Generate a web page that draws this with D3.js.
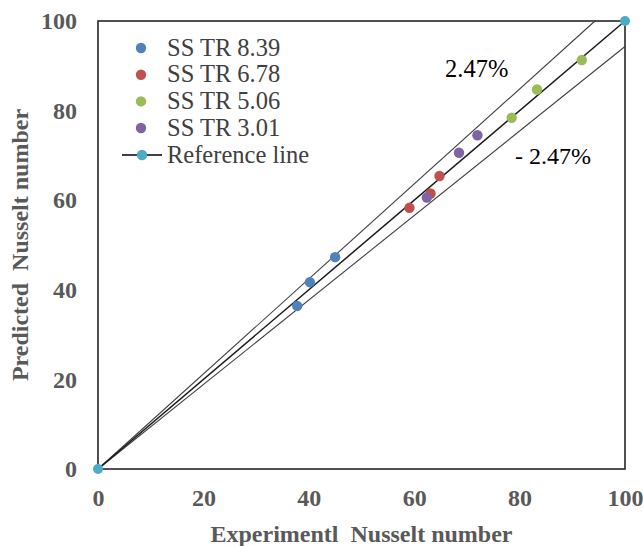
<!DOCTYPE html>
<html><head><meta charset="utf-8">
<script src="https://cdn.jsdelivr.net/npm/d3@7"></script>
<style>
html,body{margin:0;padding:0;background:#fff;}
svg{display:block;}
</style></head>
<body>
<svg id="chart" width="643" height="546"></svg>
<script>
// ---- data ----
const seriesNames = ["SS TR 8.39", "SS TR 6.78", "SS TR 5.06", "SS TR 3.01"];
const seriesColors = ["#4F81BD", "#C0504D", "#9BBB59", "#8064A2"];
const tr839 = [[37.8, 36.4], [40.2, 41.7], [45.0, 47.3]];
const tr678 = [[59.1, 58.3], [63.1, 61.5], [64.8, 65.4]];
const tr506 = [[78.5, 78.4], [83.3, 84.7], [91.8, 91.3]];
const tr301 = [[62.4, 60.6], [68.5, 70.6], [72.0, 74.5]];
const referenceLine = [[0, 0], [100, 100]];
const upperBound = [[0, 0], [94.3, 100]];
const lowerBound = [[0, 0], [100, 94.3]];
const xTicks = [0, 20, 40, 60, 80, 100];
const yTicks = [0, 20, 40, 60, 80, 100];
const xTitle = "Experimentl  Nusselt number";
const yTitle = "Predicted  Nusselt number";
const upperLabel = "2.47%";
const lowerLabel = "- 2.47%";

const allSeries = [tr839, tr678, tr506, tr301];

const svg = d3.select("#chart");
const L = 98, R = 625, T = 21, B = 469;
const x = d3.scaleLinear().domain([0, 100]).range([L, R]);
const y = d3.scaleLinear().domain([0, 100]).range([B, T]);
const serif = "Liberation Serif, Times New Roman, serif";
const tickColor = "#595959";

// frame
svg.append("rect").attr("x", L).attr("y", T).attr("width", R - L).attr("height", B - T)
  .attr("fill", "none").attr("stroke", "#262626").attr("stroke-width", 1.6);

// axes (labels only)
const xAxis = d3.axisBottom(x).tickValues(xTicks).tickSize(0).tickPadding(20);
const gx = svg.append("g").attr("transform", `translate(0,${B})`).call(xAxis);
gx.select(".domain").remove();
gx.selectAll("text").style("font-family", serif).attr("font-size", 24).attr("font-weight", "bold").attr("fill", tickColor);

const yAxis = d3.axisLeft(y).tickValues(yTicks).tickSize(0).tickPadding(21);
const gy = svg.append("g").attr("transform", `translate(${L},0)`).call(yAxis);
gy.select(".domain").remove();
gy.selectAll("text").style("font-family", serif).attr("font-size", 24).attr("font-weight", "bold").attr("fill", tickColor);

// bound lines
const line = d3.line().x(d => x(d[0])).y(d => y(d[1]));
[upperBound, lowerBound].forEach(b => {
  svg.append("path").attr("d", line(b)).attr("fill", "none").attr("stroke", "#404040").attr("stroke-width", 1.1);
});
svg.append("path").attr("d", line(referenceLine)).attr("fill", "none").attr("stroke", "#1a1a1a").attr("stroke-width", 1.5);
svg.selectAll(".refpt").data(referenceLine).enter().append("circle")
  .attr("cx", d => x(d[0])).attr("cy", d => y(d[1])).attr("r", 5).attr("fill", "#4BACC6");

// series points
allSeries.forEach((s, i) => {
  svg.selectAll(".s" + i).data(s).enter().append("circle")
    .attr("cx", d => x(d[0])).attr("cy", d => y(d[1])).attr("r", 5.2).attr("fill", seriesColors[i]);
});

// percent labels
svg.append("text").attr("x", 445).attr("y", 77).style("font-family", serif).attr("font-size", 24.5)
  .attr("fill", "#000").text(upperLabel);
svg.append("text").attr("x", 515).attr("y", 164).style("font-family", serif).attr("font-size", 24)
  .attr("fill", "#000").text(lowerLabel);

// legend
const lg = svg.append("g");
const rowY = [48, 74.7, 101.4, 128, 155];
seriesNames.forEach((n, i) => {
  lg.append("circle").attr("cx", 141).attr("cy", rowY[i]).attr("r", 5.2).attr("fill", seriesColors[i]);
  lg.append("text").attr("x", 167).attr("y", rowY[i] + 7.5).style("font-family", serif).attr("font-size", 24.5)
    .attr("fill", "#404040").text(n);
});
lg.append("line").attr("x1", 122).attr("x2", 162).attr("y1", rowY[4]).attr("y2", rowY[4]).attr("stroke", "#000").attr("stroke-width", 1.5);
lg.append("circle").attr("cx", 142).attr("cy", rowY[4]).attr("r", 5.2).attr("fill", "#4BACC6");
lg.append("text").attr("x", 167).attr("y", rowY[4] + 7.5).style("font-family", serif).attr("font-size", 24.5)
  .attr("fill", "#404040").text("Reference line");

// axis titles
svg.append("text").attr("x", (L + R) / 2).attr("y", 542).attr("text-anchor", "middle")
  .style("font-family", serif).attr("font-size", 24).attr("font-weight", "bold").attr("fill", tickColor)
  .style("white-space", "pre").text(xTitle);
svg.append("text").attr("transform", `translate(28,${(T + B) / 2}) rotate(-90)`).attr("text-anchor", "middle")
  .style("font-family", serif).attr("font-size", 24).attr("font-weight", "bold").attr("fill", tickColor)
  .style("white-space", "pre").text(yTitle);
</script>
</body></html>
